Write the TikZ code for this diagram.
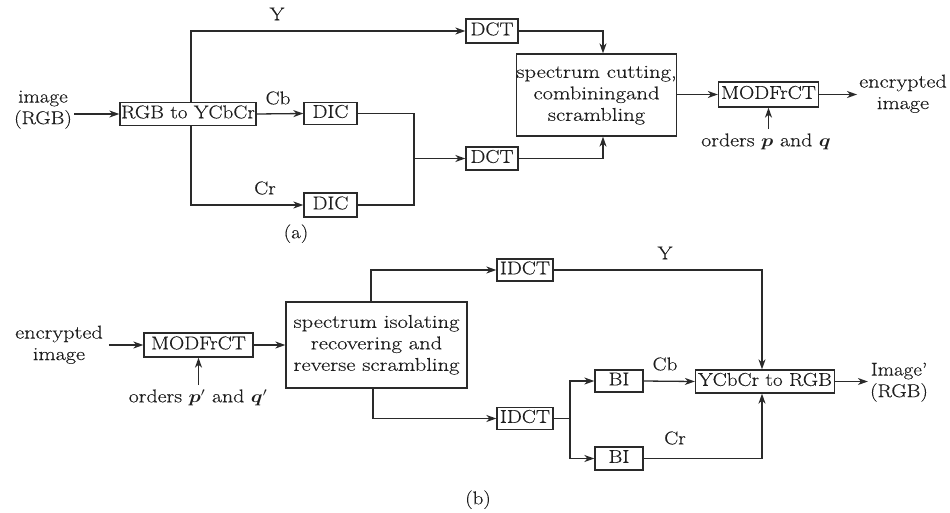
\documentclass[tikz,border=0pt]{standalone}
\usepackage{fontspec}
\setmainfont{Latin Modern Roman}[FakeBold=0.3]
\usepackage{graphicx}
\usepackage{bm}
\usetikzlibrary{arrows.meta}
\definecolor{ink}{HTML}{1E1E1E}
\definecolor{wire}{HTML}{2A2A2A}
% widened text block, one or more centred lines
\newcommand{\wide}[2][1.14]{\scalebox{#1}[1]{\begin{tabular}{@{}c@{}}#2\end{tabular}}}
\begin{document}
\begin{tikzpicture}[x=1pt,y=-1pt,
  font=\fontsize{18.5}{21.5}\selectfont, text=ink,
  blk/.style={draw=wire, line width=1.3pt, inner sep=0pt},
  lbl/.style={inner sep=2pt},
  wirestyle/.style={draw=wire, line width=1.3pt},
  arr/.style={wirestyle, -{Stealth[length=10pt,width=7pt,inset=3pt]}}]
\useasboundingbox (0,0) rectangle (950,512);

% ---------- (a) encryption ----------
\node[lbl] (img) at (43,109) {\wide{image\\(RGB)}};
\node[blk, minimum width=136pt, minimum height=23pt] (rgb) at (188,114) {\wide{RGB to YCbCr}};
\node[blk, minimum width=53pt, minimum height=22pt] (dic1) at (330.5,113.5) {\wide{DIC}};
\node[blk, minimum width=53pt, minimum height=24pt] (dic2) at (330.5,205) {\wide{DIC}};
\node[blk, minimum width=52pt, minimum height=24pt] (dct1) at (492,31) {\wide{DCT}};
\node[blk, minimum width=52pt, minimum height=23pt] (dct2) at (492,158.5) {\wide{DCT}};
\node[blk, minimum width=159pt, minimum height=82pt] (spec) at (596.5,95)
  {\wide[1.22]{spectrum cutting,\\combiningand\\scrambling}};
\node[blk, minimum width=100pt, minimum height=25pt] (mod1) at (768.5,94.5) {\wide{MODFrCT}};
\node[lbl, inner sep=0pt] (enc) at (903,94) {\wide[1.2]{encrypted\\image}};
\node[lbl] (ord) at (766,142) {\wide[1.18]{orders $\bm{p}$ and $\bm{q}$}};
\node[lbl] (capa) at (296,234) {\wide{(a)}};

\draw[arr] (img.east |- rgb.west) -- (rgb.west);
\draw[arr] ([xshift=3pt]rgb.north) |- (dct1.west);
\node[lbl] (ly) at (277,16) {\wide{Y}};
\draw[arr] (rgb.east) -- (dic1.west);
\node[lbl] (lcb) at (278,100) {\wide{Cb}};
\draw[arr] ([xshift=3pt]rgb.south) |- (dic2.west);
\node[lbl] (lcr) at (265,190) {\wide{Cr}};
\coordinate (mg) at (414,158.5);
\draw[wirestyle] (dic1.east) -| (mg);
\draw[wirestyle] (dic2.east) -| (mg);
\draw[arr] (mg) -- (dct2.west);
\draw[arr] (dct1.east) -| ([xshift=6.5pt]spec.north);
\draw[arr] (dct2.east) -| ([xshift=6.5pt]spec.south);
\draw[arr] (spec.east |- mod1.west) -- (mod1.west);
\draw[arr] (mod1.east) -- ([xshift=-2pt]enc.west |- mod1.east);
\draw[arr] (ord.north -| mod1.south) -- (mod1.south);

% ---------- (b) decryption ----------
\node[lbl] (enc2) at (59,345) {\wide[1.2]{encrypted\\image}};
\node[blk, minimum width=109pt, minimum height=24pt] (mod2) at (198.5,345) {\wide{MODFrCT}};
\node[lbl] (ord2) at (198,398) {\wide[1.18]{orders $\bm{p}'$ and $\bm{q}'$}};
\node[blk, minimum width=181pt, minimum height=86pt] (spec2) at (376.5,345)
  {\wide[1.22]{spectrum isolating\\recovering and\\reverse scrambling}};
\node[blk, minimum width=56pt, minimum height=22pt] (idct1) at (525,270) {\wide{IDCT}};
\node[blk, minimum width=56pt, minimum height=21pt] (idct2) at (525,418.5) {\wide{IDCT}};
\node[blk, minimum width=48pt, minimum height=22pt] (bi1) at (619,381) {\wide{BI}};
\node[blk, minimum width=48pt, minimum height=23pt] (bi2) at (619,458.5) {\wide{BI}};
\node[blk, minimum width=139pt, minimum height=23pt] (ycc) at (765,381.5) {\wide{YCbCr to RGB}};
\node[lbl, inner sep=0pt] (out) at (899,382) {\wide{Image'\\(RGB)}};
\node[lbl] (capb) at (478,500) {\wide{(b)}};

\draw[arr] ([xshift=4pt]enc2.east |- mod2.west) -- (mod2.west);
\draw[arr] (ord2.north -| mod2.south) -- (mod2.south);
\draw[arr] (mod2.east) -- (spec2.west);
\draw[arr] ([xshift=-5.5pt]spec2.north) |- (idct1.west);
\draw[arr] ([xshift=-3.5pt]spec2.south) |- (idct2.west);
\draw[arr] (idct1.east) -| ([xshift=-3pt]ycc.north);
\node[lbl] (ly2) at (665,255) {\wide{Y}};
\coordinate (split) at (570,418.5);
\draw[wirestyle] (idct2.east) -- (split);
\draw[arr] (split) |- (bi1.west);
\draw[arr] (split) |- (bi2.west);
\draw[arr] (bi1.east) -- (ycc.west);
\node[lbl] (lcb2) at (665,366) {\wide{Cb}};
\draw[arr] (bi2.east) -| ([xshift=-3pt]ycc.south);
\node[lbl] (lcr2) at (675,440) {\wide{Cr}};
\draw[arr] (ycc.east) -- ([xshift=-2pt]out.west |- ycc.east);
\end{tikzpicture}
\end{document}
